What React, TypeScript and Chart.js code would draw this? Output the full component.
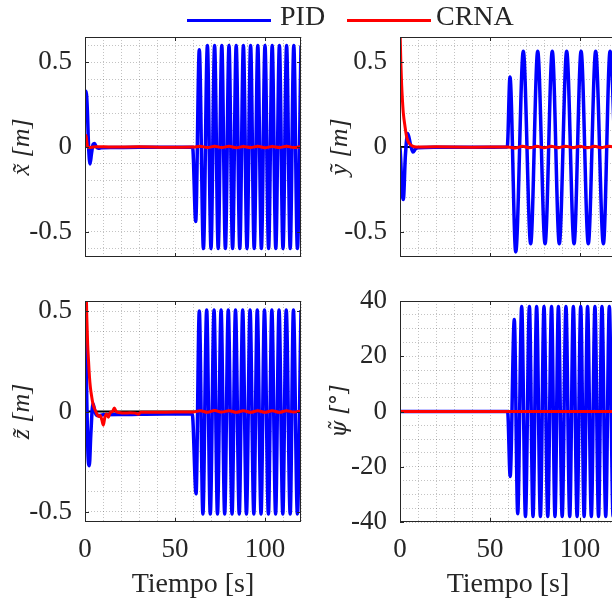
import React, { useEffect, useRef } from 'react';
import { Chart, registerables } from 'chart.js';

Chart.register(...registerables);

// ---------------- data ----------------
const T_MIN = 0;
const T_MAX = 120;
const X_MAJOR_TICKS = [0, 50, 100];
const X_MINOR_STEP = 10;

const POS_MAJOR_TICKS = [-0.5, 0, 0.5];
const PSI_MAJOR_TICKS = [-40, -20, 0, 20, 40];

const LEGEND_LABELS = ['PID', 'CRNA'];
const Y_TITLES = ['x\u0303 [m]', 'y\u0303 [m]', 'z\u0303 [m]', '\u03C8\u0303 [\u00B0]'];
const X_TITLE = 'Tiempo [s]';

const REF_T = [0, 120];
const REF_V = [0, 0];

// x~
const PID_X_T = [0, 0.6, 1.3, 2.0, 2.8, 3.6, 4.5, 5.3, 6.3, 7.5, 9, 15, 30, 45, 59.8, 61.5, 63.5, 65.8, 68, 70, 72, 74, 76, 78, 80, 82, 84, 86, 88, 90, 92, 94, 96, 98, 100, 102, 104, 106, 108, 110, 112, 114, 116, 118, 120];
const PID_X_V = [0.3, 0.33, 0.22, 0.0, -0.1, -0.04, 0.015, 0.02, 0.0, -0.008, -0.004, -0.003, -0.002, -0.002, -0.002, -0.44, 0.575, -0.6, 0.6, -0.6, 0.6, -0.6, 0.6, -0.6, 0.6, -0.6, 0.6, -0.6, 0.6, -0.6, 0.6, -0.6, 0.6, -0.6, 0.6, -0.6, 0.6, -0.6, 0.6, -0.6, 0.6, -0.6, 0.6, -0.6, 0.6];
const CRNA_X_T = [0, 0.6, 1.0, 1.5, 3, 6, 15, 30, 45, 60, 64, 68, 72, 76, 80, 84, 88, 92, 96, 100, 104, 108, 112, 116, 120];
const CRNA_X_V = [0.07, 0.068, 0.03, 0.0, -0.003, 0.002, 0.0, 0.001, -0.001, 0.0, 0.004, -0.003, 0.004, -0.003, 0.004, -0.004, 0.003, -0.003, 0.004, -0.004, 0.003, -0.003, 0.004, -0.003, 0.003];

// y~
const PID_Y_T = [0, 0.5, 1.0, 1.85, 3.0, 4.3, 5.7, 7.2, 8.7, 10, 20, 40, 59.6, 61.1, 64.3, 68.5, 72.6, 76.5, 80.6, 84.6, 88.5, 92.6, 96.7, 100.6, 104.6, 108.7, 113.0, 116.7, 120.9];
const PID_Y_V = [0, -0.1, -0.24, -0.31, -0.05, 0.08, 0.02, -0.03, -0.01, -0.005, -0.002, -0.001, 0, 0.414, -0.62, 0.566, -0.572, 0.566, -0.572, 0.566, -0.572, 0.566, -0.572, 0.566, -0.572, 0.566, -0.572, 0.566, -0.572];
const CRNA_Y_T = [0, 0.5, 0.9, 1.4, 1.85, 2.8, 3.7, 4.6, 5.6, 7, 9, 20, 40, 60, 64, 68, 72, 76, 80, 84, 88, 92, 96, 100, 104, 108, 112, 116, 120];
const CRNA_Y_V = [0.7, 0.49, 0.37, 0.27, 0.2, 0.12, 0.06, 0.03, 0.016, 0.005, 0, 0.001, -0.001, 0, -0.006, 0.005, -0.005, 0.004, -0.005, 0.004, -0.004, 0.005, -0.004, 0.004, -0.005, 0.004, -0.004, 0.005, -0.003];

// z~
const PID_Z_T = [0, 0.5, 1.0, 1.6, 2.4, 3.2, 4.4, 5.5, 6.5, 8, 10, 20, 30, 45, 59.6, 61.7, 63.5, 65.5, 67.6, 69.6, 71.7, 73.6, 75.6, 77.6, 79.6, 81.7, 83.6, 85.7, 87.6, 89.7, 91.7, 93.8, 95.7, 97.8, 99.7, 101.9, 103.8, 105.9, 107.8, 109.9, 111.8, 114.0, 115.8, 118.0, 120.0];
const PID_Z_V = [0.6, 0.35, 0.05, -0.2, -0.27, -0.12, 0.04, 0.0, -0.02, -0.02, -0.016, -0.015, -0.014, -0.013, -0.013, -0.41, 0.5, -0.51, 0.505, -0.51, 0.505, -0.51, 0.505, -0.51, 0.505, -0.51, 0.505, -0.51, 0.505, -0.51, 0.505, -0.51, 0.505, -0.51, 0.505, -0.51, 0.505, -0.51, 0.505, -0.51, 0.505, -0.51, 0.505, -0.51, 0.505];
const CRNA_Z_T = [0, 0.5, 1.0, 1.5, 1.85, 2.5, 3.0, 3.7, 4.5, 5.5, 6.5, 7.5, 8.5, 9.3, 10.2, 11, 12, 13, 14, 15.3, 16.3, 17.3, 19, 22, 25, 28, 29.6, 31, 40, 50, 60, 64, 68, 72, 76, 80, 84, 88, 92, 96, 100, 104, 108, 112, 116, 120];
const CRNA_Z_V = [0.95, 0.68, 0.47, 0.33, 0.27, 0.17, 0.12, 0.075, 0.035, 0.01, -0.01, -0.025, -0.02, -0.04, -0.068, -0.03, -0.012, -0.028, -0.006, 0.0, 0.018, 0.0, -0.005, -0.008, -0.006, -0.008, -0.014, -0.004, -0.004, -0.003, -0.003, 0.004, -0.004, 0.005, -0.003, 0.004, -0.004, 0.004, -0.004, 0.004, -0.004, 0.004, -0.004, 0.004, -0.003, 0.003];

// psi~
const PID_PSI_T = [0, 30, 59.8, 61.2, 63.5, 65.4, 67.6, 69.7, 71.9, 73.9, 75.9, 78.0, 80.0, 82.1, 84.2, 86.1, 88.0, 90.1, 92.2, 94.3, 96.3, 98.4, 100.4, 102.3, 104.2, 106.3, 108.3, 110.3, 112.2, 114.3, 116.3, 118.4, 120.4];
const PID_PSI_V = [0, 0, 0, -23.5, 33.3, -37, 38, -38, 38, -38, 38, -38, 38, -38, 38, -38, 38, -38, 38, -38, 38, -38, 38, -38, 38, -38, 38, -38, 38, -38, 38, -38, 38];
const CRNA_PSI_T = [0, 120];
const CRNA_PSI_V = [0, 0];

// ---------------- styling ----------------
const FONT = "'Liberation Serif', 'Times New Roman', serif";
const TITLE_FONT_GREEK = "'DejaVu Serif', 'Liberation Serif', serif";
const TEXT = '#262626';
const BLUE = '#0000ff';
const RED = '#ff0000';
const GRID = 'rgba(38,38,38,0.28)';

const pts = (t: number[], v: number[]) => t.map((x, i) => ({ x, y: v[i] }));

const gridTicks = (min: number, max: number, step: number) => {
  const out: { value: number }[] = [];
  const n0 = Math.ceil(min / step - 1e-9);
  const n1 = Math.floor(max / step + 1e-9);
  for (let n = n0; n <= n1; n++) out.push({ value: Math.round(n * step * 1e6) / 1e6 });
  return out;
};

const framePlugin = {
  id: 'frame',
  afterDraw(chart: any, _args: any, opts: any) {
    const { ctx, chartArea: a, scales } = chart;
    ctx.save();
    ctx.strokeStyle = TEXT;
    ctx.lineWidth = 1;
    ctx.strokeRect(Math.round(a.left) + 0.5, Math.round(a.top) + 0.5, Math.round(a.right - a.left) - 1, Math.round(a.bottom - a.top) - 1);
    const L = 4;
    ctx.beginPath();
    (opts.xMajor || []).forEach((v: number) => {
      const px = Math.round(scales.x.getPixelForValue(v)) + 0.5;
      ctx.moveTo(px, a.bottom); ctx.lineTo(px, a.bottom - L);
      ctx.moveTo(px, a.top); ctx.lineTo(px, a.top + L);
    });
    (opts.yMajor || []).forEach((v: number) => {
      const py = Math.round(scales.y.getPixelForValue(v)) + 0.5;
      ctx.moveTo(a.left, py); ctx.lineTo(a.left + L, py);
      ctx.moveTo(a.right, py); ctx.lineTo(a.right - L, py);
    });
    ctx.stroke();
    ctx.restore();
  },
};

type PanelProps = {
  left: number; top: number; w: number; h: number;
  pad: { left: number; top: number; right: number; bottom: number };
  yWidth: number; xHeight: number; titlePad: number; titleFont: string; titleSize: number;
  pidT: number[]; pidV: number[]; crnaT: number[]; crnaV: number[];
  yMin: number; yMax: number; yStep: number; yMajor: number[];
  yTitle: string; showX: boolean;
};

function Panel(p: PanelProps) {
  const ref = useRef<HTMLCanvasElement>(null);
  useEffect(() => {
    const isMajor = (v: number, arr: number[]) => arr.find((m) => Math.abs(v - m) < 1e-6);
    const chart = new Chart(ref.current as HTMLCanvasElement, {
      type: 'line',
      data: {
        datasets: [
          { label: LEGEND_LABELS[1], data: pts(p.crnaT, p.crnaV), borderColor: RED, backgroundColor: RED, borderWidth: 3, pointRadius: 0, cubicInterpolationMode: 'monotone', order: 0, clip: 0 } as any,
          { label: LEGEND_LABELS[0], data: pts(p.pidT, p.pidV), borderColor: BLUE, backgroundColor: BLUE, borderWidth: 3.5, pointRadius: 0, cubicInterpolationMode: 'monotone', order: 1, clip: 0 } as any,
          { label: 'ref', data: pts(REF_T, REF_V), borderColor: '#000000', borderWidth: 2, pointRadius: 0, order: 2, clip: 0 } as any,
        ],
      },
      options: {
        animation: false,
        responsive: false,
        devicePixelRatio: 1,
        events: [],
        layout: { padding: p.pad },
        plugins: {
          legend: { display: false },
          tooltip: { enabled: false },
          frame: { xMajor: X_MAJOR_TICKS, yMajor: p.yMajor },
        } as any,
        scales: {
          x: {
            type: 'linear',
            min: T_MIN,
            max: T_MAX,
            grid: { color: GRID, lineWidth: 1, drawTicks: false },
            border: { display: false, dash: [1, 2] },
            afterBuildTicks: (s: any) => { s.ticks = gridTicks(T_MIN, T_MAX, X_MINOR_STEP); },
            ticks: {
              display: p.showX,
              autoSkip: false,
              maxRotation: 0,
              padding: 14,
              color: TEXT,
              font: { family: FONT, size: 27, lineHeight: 1 },
              callback: (v: any) => { const m = isMajor(Number(v), X_MAJOR_TICKS); return m === undefined ? '' : String(m); },
            },
            title: { display: p.showX, text: X_TITLE, color: TEXT, font: { family: FONT, size: 28, lineHeight: 1 }, padding: { top: 0, bottom: 4 } },
            afterFit: (s: any) => { s.height = p.xHeight; s.paddingLeft = 0; s.paddingRight = 0; s.paddingTop = 0; s.paddingBottom = 0; },
          },
          y: {
            type: 'linear',
            min: p.yMin,
            max: p.yMax,
            grid: { color: GRID, lineWidth: 1, drawTicks: false },
            border: { display: false, dash: [1, 2] },
            afterBuildTicks: (s: any) => { s.ticks = gridTicks(p.yMin, p.yMax, p.yStep); },
            ticks: {
              autoSkip: false,
              padding: 13,
              color: TEXT,
              font: { family: FONT, size: 27, lineHeight: 1 },
              callback: (v: any) => { const m = isMajor(Number(v), p.yMajor); return m === undefined ? '' : String(m); },
            },
            title: { display: true, text: p.yTitle, color: TEXT, font: { family: p.titleFont, size: p.titleSize, style: 'italic', lineHeight: 1 }, padding: { top: p.titlePad, bottom: 0 } },
            afterFit: (s: any) => { s.width = p.yWidth; s.paddingLeft = 0; s.paddingRight = 0; s.paddingTop = 0; s.paddingBottom = 0; },
          },
        },
      } as any,
      plugins: [framePlugin as any],
    });
    return () => chart.destroy();
  }, []);
  return (
    <canvas
      ref={ref}
      width={p.w}
      height={p.h}
      style={{ position: 'absolute', left: p.left, top: p.top, width: p.w, height: p.h }}
    />
  );
}

export default function App() {
  const legendText: React.CSSProperties = { position: 'absolute', top: 2, fontFamily: FONT, fontSize: 28, lineHeight: '28px', color: TEXT, whiteSpace: 'nowrap' };
  const line = (left: number, color: string): React.CSSProperties => ({ position: 'absolute', left, top: 19, width: 84, height: 3, background: color });
  return (
    <div style={{ position: 'absolute', left: 0, top: 0, width: 612, height: 603, overflow: 'hidden', background: '#ffffff' }}>
      <Panel left={0} top={20} w={310} h={250} pad={{ left: 0, top: 17, right: 9, bottom: 0 }} yWidth={85} xHeight={13} titlePad={9} titleFont={FONT} titleSize={26}
        pidT={PID_X_T} pidV={PID_X_V} crnaT={CRNA_X_T} crnaV={CRNA_X_V}
        yMin={-0.65} yMax={0.65} yStep={0.1} yMajor={POS_MAJOR_TICKS} yTitle={Y_TITLES[0]} showX={false} />
      <Panel left={320} top={20} w={310} h={250} pad={{ left: 0, top: 17, right: 14, bottom: 0 }} yWidth={80} xHeight={13} titlePad={7} titleFont={FONT} titleSize={26}
        pidT={PID_Y_T} pidV={PID_Y_V} crnaT={CRNA_Y_T} crnaV={CRNA_Y_V}
        yMin={-0.65} yMax={0.65} yStep={0.1} yMajor={POS_MAJOR_TICKS} yTitle={Y_TITLES[1]} showX={false} />
      <Panel left={0} top={290} w={310} h={313} pad={{ left: 0, top: 11, right: 9, bottom: 0 }} yWidth={85} xHeight={81} titlePad={9} titleFont={FONT} titleSize={26}
        pidT={PID_Z_T} pidV={PID_Z_V} crnaT={CRNA_Z_T} crnaV={CRNA_Z_V}
        yMin={-0.55} yMax={0.55} yStep={0.1} yMajor={POS_MAJOR_TICKS} yTitle={Y_TITLES[2]} showX={true} />
      <Panel left={320} top={290} w={310} h={313} pad={{ left: 0, top: 11, right: 14, bottom: 0 }} yWidth={80} xHeight={81} titlePad={9} titleFont={TITLE_FONT_GREEK} titleSize={22}
        pidT={PID_PSI_T} pidV={PID_PSI_V} crnaT={CRNA_PSI_T} crnaV={CRNA_PSI_V}
        yMin={-40} yMax={40} yStep={5} yMajor={PSI_MAJOR_TICKS} yTitle={Y_TITLES[3]} showX={true} />
      <div style={line(187, BLUE)} />
      <div style={{ ...legendText, left: 280 }}>{LEGEND_LABELS[0]}</div>
      <div style={line(347, RED)} />
      <div style={{ ...legendText, left: 436 }}>{LEGEND_LABELS[1]}</div>
    </div>
  );
}
